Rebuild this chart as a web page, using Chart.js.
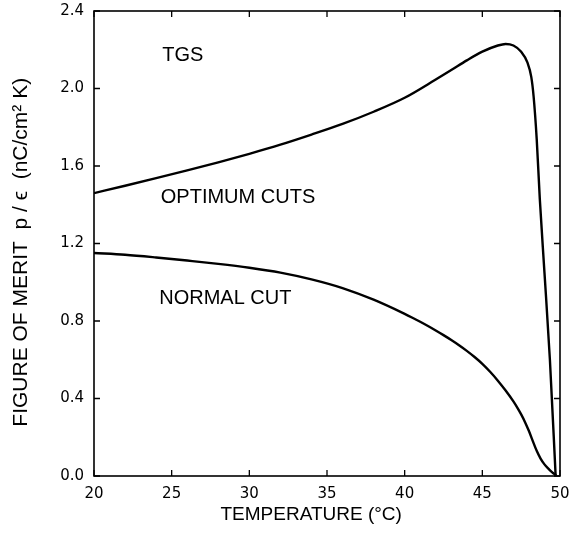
<!DOCTYPE html>
<html>
<head>
<meta charset="utf-8">
<script src="https://cdn.jsdelivr.net/npm/chart.js@4"></script>
<style>
  html, body { margin: 0; padding: 0; background: #fff; }
  #wrap { width: 578px; height: 542px; }
</style>
</head>
<body>
<div id="wrap"><canvas id="meritChart" width="578" height="542"></canvas></div>
<script>
// Data
const optTemps = [20, 22, 24, 26, 28, 30, 32, 34, 36, 38, 40, 42, 43, 44, 45, 46, 46.5, 47, 47.5, 47.9, 48.15, 48.3, 48.5, 48.7, 49, 49.35, 49.72];
const optValues = [1.46, 1.498, 1.537, 1.577, 1.619, 1.663, 1.71, 1.762, 1.817, 1.88, 1.952, 2.046, 2.095, 2.145, 2.19, 2.222, 2.23, 2.222, 2.19, 2.135, 2.06, 1.96, 1.74, 1.43, 1.05, 0.6, 0.0];

const normTemps = [20, 22, 24, 26, 28, 30, 32, 34, 36, 38, 40, 40.5, 41, 41.5, 42, 42.5, 43, 43.5, 44, 44.5, 45, 45.5, 46, 46.5, 47, 47.25, 47.5, 47.75, 48, 48.25, 48.5, 48.75, 49, 49.25, 49.5, 49.75];
const normValues = [1.151, 1.142, 1.128, 1.112, 1.095, 1.075, 1.05, 1.015, 0.97, 0.91, 0.837, 0.817, 0.796, 0.774, 0.751, 0.727, 0.702, 0.675, 0.646, 0.614, 0.579, 0.538, 0.492, 0.441, 0.385, 0.353, 0.318, 0.278, 0.232, 0.18, 0.13, 0.09, 0.06, 0.038, 0.019, 0.003];

const xTicks = [20, 25, 30, 35, 40, 45, 50];
const yTicks = [0.0, 0.4, 0.8, 1.2, 1.6, 2.0, 2.4];

// curve labels, placed at data coordinates
const curveLabels = [
  { text: "TGS", x: 24.4, y: 2.17 },
  { text: "OPTIMUM CUTS", x: 24.3, y: 1.435 },
  { text: "NORMAL CUT", x: 24.2, y: 0.914 }
];

function toPoints(xs, ys) {
  return xs.map((x, i) => ({ x: x, y: ys[i] }));
}

const FONT = "'Liberation Sans', Arial, sans-serif";
const TICKFONT = "'DejaVu Sans', sans-serif";

// frame, inward ticks and labels
const framePlugin = {
  id: "frame",
  afterDatasetsDraw(chart) {
    const ctx = chart.ctx;
    const a = chart.chartArea;
    const xs = chart.scales.x;
    const ys = chart.scales.y;
    ctx.save();
    ctx.strokeStyle = "#000";
    ctx.lineWidth = 1.6;
    ctx.strokeRect(a.left, a.top, a.right - a.left, a.bottom - a.top);

    ctx.lineWidth = 1.3;
    const len = 6;
    ctx.beginPath();
    xTicks.forEach(v => {
      const px = xs.getPixelForValue(v);
      ctx.moveTo(px, a.bottom); ctx.lineTo(px, a.bottom - len);
      ctx.moveTo(px, a.top); ctx.lineTo(px, a.top + len);
    });
    yTicks.forEach(v => {
      const py = ys.getPixelForValue(v);
      ctx.moveTo(a.left, py); ctx.lineTo(a.left + len, py);
      ctx.moveTo(a.right, py); ctx.lineTo(a.right - len, py);
    });
    ctx.stroke();

    ctx.fillStyle = "#000";
    ctx.font = "20px " + FONT;
    ctx.textAlign = "left";
    ctx.textBaseline = "middle";
    curveLabels.forEach(l => {
      ctx.fillText(l.text, xs.getPixelForValue(l.x), ys.getPixelForValue(l.y));
    });
    ctx.restore();
  }
};

const ctx = document.getElementById("meritChart").getContext("2d");
window.myChart = new Chart(ctx, {
  type: "line",
  data: {
    datasets: [
      {
        label: "Optimum cuts",
        data: toPoints(optTemps, optValues),
        borderColor: "#000",
        borderWidth: 2.4,
        pointRadius: 0,
        fill: false,
        cubicInterpolationMode: "monotone"
      },
      {
        label: "Normal cut",
        data: toPoints(normTemps, normValues),
        borderColor: "#000",
        borderWidth: 2.4,
        pointRadius: 0,
        fill: false,
        cubicInterpolationMode: "monotone"
      }
    ]
  },
  options: {
    responsive: false,
    animation: false,
    layout: { padding: { left: 0, right: 18, top: 11, bottom: 0 } },
    plugins: {
      legend: { display: false },
      tooltip: { enabled: false }
    },
    scales: {
      x: {
        type: "linear",
        min: 20,
        max: 50,
        grid: { display: false, drawTicks: false },
        border: { display: false },
        afterBuildTicks: scale => { scale.ticks = xTicks.map(v => ({ value: v })); },
        afterFit: scale => {
          scale.height = 66;
          scale.paddingLeft = 0;
          scale.paddingRight = 0;
        },
        ticks: {
          color: "#000",
          padding: 9,
          maxRotation: 0,
          font: { family: TICKFONT, size: 15 },
          callback: v => String(v)
        },
        title: {
          display: true,
          text: "TEMPERATURE (°C)\u00a0\u00a0\u00a0\u00a0\u00a0\u00a0",
          color: "#000",
          font: { family: FONT, size: 19 },
          padding: { top: 4, bottom: 16 }
        }
      },
      y: {
        type: "linear",
        min: 0,
        max: 2.4,
        grid: { display: false, drawTicks: false },
        border: { display: false },
        afterBuildTicks: scale => { scale.ticks = yTicks.map(v => ({ value: v })); },
        afterFit: scale => {
          scale.width = 94;
          scale.paddingTop = 0;
          scale.paddingBottom = 0;
        },
        ticks: {
          color: "#000",
          padding: 10,
          font: { family: TICKFONT, size: 15 },
          callback: v => Number(v).toFixed(1)
        },
        title: {
          display: true,
          text: "FIGURE OF MERIT  p / ϵ  (nC/cm² K)\u00a0\u00a0\u00a0",
          color: "#000",
          font: { family: FONT, size: 21 },
          padding: { top: 9, bottom: 4 }
        }
      }
    }
  },
  plugins: [framePlugin]
});
</script>
</body>
</html>
